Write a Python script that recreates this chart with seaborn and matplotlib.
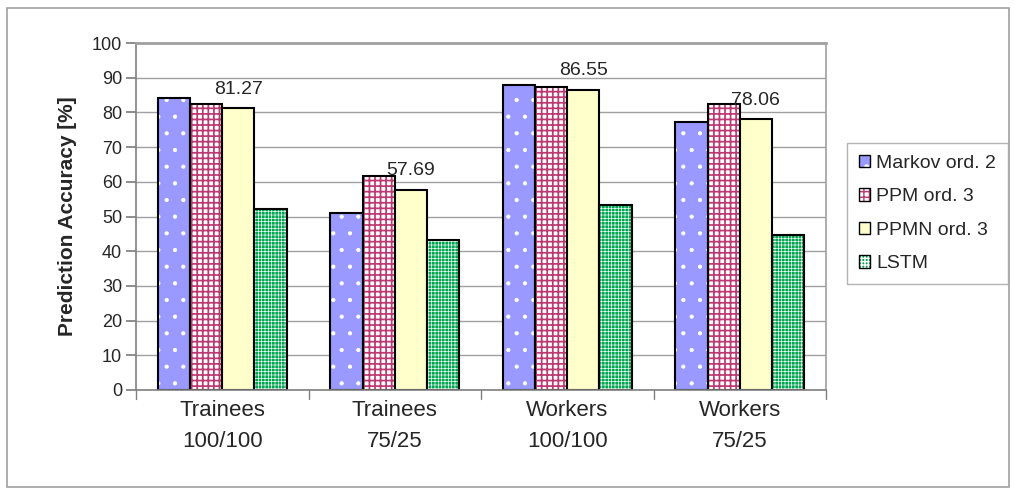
import numpy as np
import pandas as pd
import matplotlib
matplotlib.use("Agg")
import matplotlib.pyplot as plt
import seaborn as sns
from matplotlib.colors import to_rgba
from matplotlib.patches import Rectangle, Patch

# Data
groups = ["Trainees\n100/100", "Trainees\n75/25", "Workers\n100/100", "Workers\n75/25"]
models = ["Markov ord. 2", "PPM ord. 3", "PPMN ord. 3", "LSTM"]
markov = [84.1, 51.0, 87.9, 77.2]
ppm = [82.4, 61.7, 87.3, 82.4]
ppmn = [81.27, 57.69, 86.55, 78.06]
lstm = [52.2, 43.2, 53.3, 44.7]
labelled_values = ppmn

sns.set_theme(style="white")
plt.rcParams["font.family"] = ["Liberation Sans", "DejaVu Sans"]

# fill styles per model: face colour, hatch, hatch colour, hatch line width
face = ["#9999FF", "#FFFFFF", "#FFFFCC", "#00A650"]
hatch = [".", "+++", "", "+++++"]
hcolor = ["#FFFFFF", "#BC3A72", "#000000", "#FFFFFF"]
hlw = [0.6, 1.25, 1.0, 0.45]

rows = []
for m, vals in zip(models, [markov, ppm, ppmn, lstm]):
    for g, v in zip(groups, vals):
        rows.append({"group": g, "model": m, "value": v})
df = pd.DataFrame(rows)

fig = plt.figure(figsize=(10.14, 4.95), dpi=100)
fig.patches.append(Rectangle((7 / 1014, 8 / 495), 1002 / 1014, 479 / 495,
                             transform=fig.transFigure, fill=False,
                             edgecolor="#A0A0A0", linewidth=1.2))
ax = fig.add_axes([136 / 1014, 105 / 495, 690 / 1014, 347 / 495])

sns.barplot(data=df, x="group", y="value", hue="model", hue_order=models,
            order=groups, ax=ax, width=0.745, gap=0, legend=False,
            palette=face, saturation=1)


def style_hatch(p, c, lw):
    if hasattr(p, "set_hatchcolor"):
        p.set_hatchcolor(c)
    else:
        p._hatch_color = to_rgba(c)
    if hasattr(p, "set_hatch_linewidth"):
        p.set_hatch_linewidth(lw)
    else:
        p._hatch_linewidth = lw


for i, cont in enumerate(ax.containers):
    for p in cont.patches:
        p.set_facecolor(face[i])
        p.set_edgecolor("black")
        p.set_linewidth(1.5)
        if hatch[i]:
            p.set_hatch(hatch[i])
            style_hatch(p, hcolor[i], hlw[i])

# value labels on the PPMN bars
for p, v in zip(ax.containers[2].patches, labelled_values):
    ax.text(p.get_x() + p.get_width() / 2, v + 3.0, f"{v:.2f}",
            ha="center", va="bottom", fontsize=14)

ax.set_ylim(0, 100)
ax.set_xlim(-0.5, 3.5)
ax.set_yticks(np.arange(0, 101, 10))
ax.yaxis.grid(True, color="#A0A0A0", linewidth=1.0)
ax.set_axisbelow(True)
ax.tick_params(axis="y", labelsize=13, length=7, direction="out", left=True,
               color="#808080", pad=3)
ax.tick_params(axis="x", labelsize=16, length=0, pad=7)
ax.set_xticks(range(len(groups)))
ax.set_xticklabels(groups, linespacing=1.65)
for x in np.arange(-0.5, 4.0, 1.0):
    ax.plot([x, x], [0, -0.025], transform=ax.get_xaxis_transform(),
            color="#808080", linewidth=1, clip_on=False)
ax.set_xlabel("")
ax.set_ylabel("Prediction Accuracy [%]", fontsize=15, fontweight="bold", labelpad=11)

for s in ["left", "bottom"]:
    ax.spines[s].set_color("#808080")
    ax.spines[s].set_linewidth(1.2)
for s in ["top", "right"]:
    ax.spines[s].set_color("#A0A0A0")
    ax.spines[s].set_linewidth(1.2)
ax.spines["top"].set_linewidth(2.0)

handles = []
for i, m in enumerate(models):
    h = Patch(facecolor=face[i], edgecolor="black", hatch=hatch[i] or None,
              linewidth=1.0, label=m)
    if hatch[i]:
        style_hatch(h, hcolor[i], hlw[i])
    handles.append(h)
leg = fig.legend(handles=handles, loc="upper left",
                 bbox_to_anchor=(847 / 1014, 1 - 143 / 495),
                 fontsize=14, frameon=True, fancybox=False,
                 edgecolor="#A0A0A0", handlelength=0.6, handleheight=0.6,
                 handletextpad=0.3, labelspacing=0.85, borderpad=0.6,
                 borderaxespad=0)
leg.get_frame().set_linewidth(1.0)

fig.savefig("out.png", dpi=100, facecolor="white")
